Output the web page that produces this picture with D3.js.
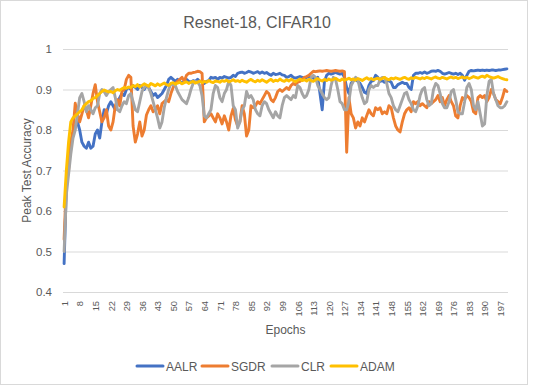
<!DOCTYPE html>
<html><head><meta charset="utf-8">
<script src="https://cdn.jsdelivr.net/npm/d3@7"></script>
<style>
body{margin:0;background:#fff;}
svg{display:block;font-family:"Liberation Sans",Arial,sans-serif;}
</style></head>
<body><svg id="c" width="533" height="386"></svg>
<script>
const seriesNames = ["AALR","SGDR","CLR","ADAM"];
const seriesColors = ["#4472C4","#ED7D31","#A5A5A5","#FFC000"];
const yTickValues = [0.4,0.5,0.6,0.7,0.8,0.9,1];
const xTickLabels = [1,8,15,22,29,36,43,50,57,64,71,78,85,92,99,106,113,120,127,134,141,148,155,162,169,176,183,190,197];

const aalr = [
0.47,0.66,0.73,0.77,0.79,0.81,0.82,0.80,0.77,0.76,
0.755,0.77,0.755,0.76,0.79,0.80,0.78,0.82,0.85,0.84,
0.86,0.87,0.86,0.85,0.87,0.88,0.89,0.885,0.90,0.905,
0.90,0.91,0.905,0.90,0.91,0.905,0.90,0.91,0.905,0.895,
0.885,0.89,0.88,0.885,0.89,0.90,0.91,0.925,0.93,0.925,
0.92,0.925,0.92,0.915,0.92,0.925,0.92,0.918,0.922,0.92,
0.925,0.92,0.918,0.915,0.92,0.922,0.93,0.928,0.93,0.925,
0.93,0.928,0.932,0.93,0.928,0.93,0.935,0.932,0.94,0.942,
0.943,0.94,0.942,0.945,0.943,0.94,0.942,0.944,0.94,0.943,
0.94,0.942,0.938,0.935,0.94,0.937,0.938,0.94,0.936,0.935,
0.93,0.932,0.935,0.93,0.928,0.93,0.932,0.93,0.928,0.93,
0.932,0.93,0.928,0.925,0.93,0.89,0.85,0.92,0.935,0.94,
0.938,0.94,0.942,0.94,0.938,0.94,0.93,0.905,0.89,0.915,
0.922,0.925,0.92,0.915,0.905,0.893,0.89,0.91,0.92,0.922,
0.935,0.93,0.92,0.922,0.918,0.92,0.922,0.918,0.905,0.905,
0.912,0.915,0.918,0.915,0.915,0.905,0.90,0.935,0.94,0.94,
0.942,0.94,0.943,0.94,0.942,0.945,0.946,0.945,0.947,0.945,
0.94,0.938,0.94,0.942,0.94,0.938,0.94,0.937,0.94,0.935,
0.923,0.935,0.945,0.947,0.946,0.947,0.948,0.947,0.948,0.947,
0.948,0.947,0.948,0.948,0.947,0.948,0.948,0.949,0.95,0.951];

const sgdr = [
0.53,0.67,0.70,0.77,0.80,0.866,0.84,0.82,0.84,0.86,
0.85,0.83,0.86,0.89,0.912,0.87,0.845,0.82,0.83,0.85,
0.81,0.80,0.82,0.86,0.875,0.86,0.895,0.90,0.925,0.935,
0.93,0.81,0.77,0.79,0.82,0.785,0.80,0.837,0.85,0.86,
0.845,0.85,0.86,0.84,0.865,0.87,0.875,0.87,0.89,0.905,
0.915,0.92,0.925,0.93,0.92,0.935,0.94,0.94,0.942,0.943,
0.945,0.944,0.94,0.82,0.83,0.835,0.84,0.83,0.82,0.84,
0.83,0.815,0.835,0.82,0.80,0.835,0.853,0.825,0.81,0.82,
0.86,0.84,0.785,0.80,0.86,0.855,0.86,0.87,0.865,0.875,
0.885,0.895,0.89,0.875,0.87,0.88,0.895,0.90,0.895,0.90,
0.905,0.90,0.91,0.915,0.912,0.918,0.92,0.925,0.93,0.932,
0.935,0.94,0.945,0.944,0.945,0.946,0.945,0.946,0.947,0.946,
0.945,0.946,0.947,0.946,0.945,0.946,0.944,0.745,0.88,0.84,
0.83,0.805,0.82,0.81,0.83,0.82,0.835,0.85,0.84,0.835,
0.855,0.85,0.855,0.84,0.845,0.84,0.86,0.855,0.83,0.81,
0.80,0.795,0.82,0.84,0.85,0.855,0.845,0.87,0.865,0.87,
0.86,0.865,0.86,0.855,0.87,0.865,0.87,0.875,0.885,0.87,
0.88,0.86,0.875,0.885,0.87,0.86,0.835,0.83,0.86,0.88,
0.875,0.885,0.88,0.87,0.845,0.84,0.88,0.885,0.88,0.885,
0.87,0.88,0.90,0.89,0.875,0.87,0.865,0.88,0.90,0.895];

const clr = [
0.50,0.64,0.69,0.74,0.78,0.80,0.84,0.88,0.89,0.87,
0.845,0.86,0.85,0.84,0.855,0.86,0.89,0.90,0.895,0.885,
0.895,0.90,0.905,0.88,0.85,0.845,0.86,0.87,0.865,0.885,
0.89,0.87,0.85,0.845,0.87,0.895,0.905,0.91,0.905,0.89,
0.87,0.85,0.83,0.805,0.82,0.855,0.88,0.90,0.915,0.912,
0.91,0.895,0.885,0.875,0.87,0.865,0.88,0.90,0.915,0.92,
0.918,0.91,0.885,0.835,0.83,0.84,0.85,0.89,0.91,0.905,
0.88,0.87,0.89,0.90,0.92,0.91,0.86,0.85,0.805,0.82,
0.85,0.86,0.895,0.88,0.885,0.875,0.85,0.84,0.835,0.86,
0.87,0.865,0.85,0.84,0.83,0.845,0.835,0.83,0.86,0.88,
0.885,0.88,0.875,0.885,0.88,0.91,0.905,0.89,0.88,0.885,
0.90,0.93,0.935,0.93,0.91,0.90,0.89,0.88,0.875,0.88,
0.91,0.93,0.925,0.90,0.87,0.865,0.85,0.85,0.87,0.91,
0.92,0.93,0.925,0.90,0.88,0.865,0.87,0.90,0.91,0.905,
0.91,0.91,0.925,0.93,0.93,0.915,0.89,0.88,0.86,0.85,
0.845,0.86,0.875,0.89,0.893,0.875,0.865,0.85,0.845,0.86,
0.885,0.90,0.905,0.875,0.86,0.865,0.90,0.915,0.91,0.89,
0.865,0.855,0.855,0.87,0.895,0.90,0.875,0.845,0.84,0.84,
0.87,0.905,0.915,0.90,0.86,0.85,0.87,0.84,0.81,0.815,
0.885,0.92,0.925,0.89,0.875,0.86,0.855,0.855,0.86,0.87];

const adam = [
0.61,0.70,0.77,0.82,0.83,0.835,0.84,0.845,0.85,0.86,
0.865,0.87,0.872,0.878,0.88,0.885,0.89,0.895,0.899,0.896,
0.894,0.895,0.892,0.897,0.90,0.898,0.902,0.905,0.903,0.906,
0.905,0.91,0.907,0.912,0.906,0.91,0.914,0.911,0.908,0.915,
0.912,0.909,0.914,0.91,0.913,0.916,0.912,0.91,0.915,0.917,
0.913,0.916,0.918,0.914,0.917,0.919,0.915,0.918,0.92,0.916,
0.918,0.921,0.917,0.92,0.918,0.922,0.919,0.917,0.921,0.92,
0.918,0.922,0.92,0.923,0.919,0.921,0.924,0.92,0.922,0.919,
0.923,0.92,0.918,0.922,0.925,0.921,0.919,0.923,0.92,0.924,
0.921,0.918,0.922,0.925,0.92,0.923,0.921,0.926,0.922,0.92,
0.924,0.921,0.925,0.922,0.919,0.923,0.926,0.922,0.924,0.921,
0.925,0.922,0.92,0.924,0.927,0.923,0.921,0.925,0.922,0.926,
0.923,0.925,0.928,0.924,0.922,0.926,0.923,0.925,0.928,0.924,
0.926,0.923,0.927,0.925,0.922,0.926,0.929,0.925,0.927,0.924,
0.926,0.928,0.925,0.927,0.93,0.926,0.924,0.928,0.926,0.929,
0.927,0.925,0.928,0.93,0.927,0.925,0.929,0.927,0.93,0.928,
0.926,0.929,0.927,0.93,0.928,0.926,0.929,0.931,0.928,0.927,
0.93,0.928,0.926,0.929,0.931,0.928,0.93,0.927,0.929,0.931,
0.928,0.93,0.927,0.929,0.932,0.93,0.928,0.931,0.933,0.93,
0.935,0.932,0.93,0.928,0.93,0.932,0.929,0.927,0.925,0.924];

const seriesValues = [aalr, sgdr, clr, adam];
const epochs = aalr.map((_, i) => i + 1);

const svg = d3.select("#c");
const textColor = "#595959";
const gridColor = "#d9d9d9";

svg.append("rect").attr("x",0.5).attr("y",0.5).attr("width",527).attr("height",384)
  .attr("fill","#fff").attr("stroke",gridColor);

const plot = {left:63, right:508, top:49, bottom:292};
const x = d3.scalePoint().domain(epochs).range([plot.left, plot.right]).padding(0.5);
const y = d3.scaleLinear().domain([0.4, 1]).range([plot.bottom, plot.top]);

// grid + y axis
const yAxis = d3.axisLeft(y).tickValues(yTickValues).tickSize(-(plot.right-plot.left))
  .tickPadding(11).tickFormat(d => d3.format("")(+d.toFixed(1)));
const gy = svg.append("g").attr("transform",`translate(${plot.left},0)`).call(yAxis);
gy.select(".domain").remove();
gy.selectAll("line").attr("stroke",gridColor).attr("stroke-width",1);
gy.selectAll("text").attr("fill",textColor).attr("font-size","11.5px");

// x axis
const xAxis = d3.axisBottom(x).tickValues(xTickLabels).tickSize(0).tickPadding(0);
const gx = svg.append("g").attr("transform",`translate(0,${plot.bottom})`).call(xAxis);
gx.select(".domain").attr("stroke",gridColor).attr("d",`M${plot.left},0.5H${plot.right}`);
gx.selectAll("text").attr("fill",textColor).attr("font-size","9.3px")
  .attr("transform","rotate(-90)").attr("text-anchor","end")
  .attr("x",-9).attr("y",0).attr("dy","0.35em");

// lines
const line = d3.line().x((d,i) => x(epochs[i])).y(d => y(d));
seriesValues.forEach((vals, k) => {
  svg.append("path").datum(vals).attr("d", line).attr("fill","none")
    .attr("stroke", seriesColors[k]).attr("stroke-width",2.9)
    .attr("stroke-linejoin","round").attr("stroke-linecap","round");
});

// titles
svg.append("text").attr("x",257).attr("y",28).attr("text-anchor","middle")
  .attr("fill",textColor).attr("font-size","16px").text("Resnet-18, CIFAR10");
svg.append("text").attr("transform","translate(31,170.5) rotate(-90)").attr("text-anchor","middle")
  .attr("fill",textColor).attr("font-size","12px").text("Peak Test Accuracy");
svg.append("text").attr("x",285.5).attr("y",334).attr("text-anchor","middle")
  .attr("fill",textColor).attr("font-size","12px").text("Epochs");

// legend
const legendX = [137, 202, 272, 331];
seriesNames.forEach((name, k) => {
  const g = svg.append("g").attr("transform",`translate(${legendX[k]},366)`);
  g.append("line").attr("x1",0).attr("x2",26).attr("y1",0).attr("y2",0)
    .attr("stroke",seriesColors[k]).attr("stroke-width",3).attr("stroke-linecap","round");
  g.append("text").attr("x",29).attr("y",4.5).attr("fill",textColor)
    .attr("font-size","12px").text(name);
});
</script></body></html>
